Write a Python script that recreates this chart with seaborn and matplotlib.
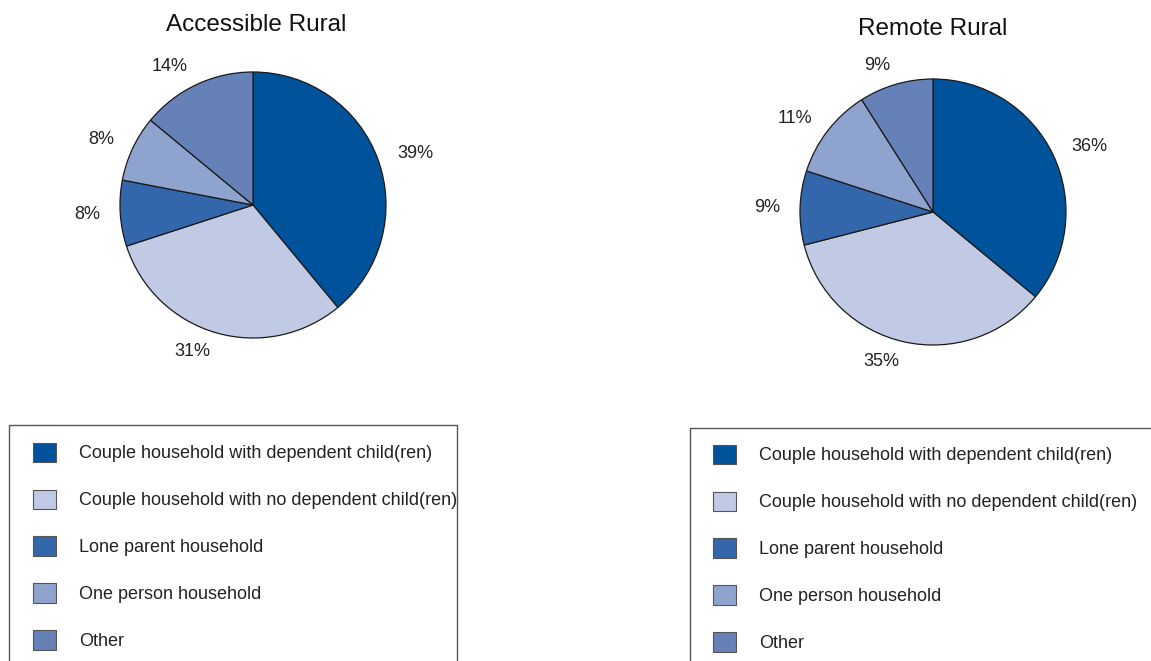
import matplotlib
matplotlib.use("Agg")
import matplotlib.pyplot as plt
from matplotlib.patches import Patch
import seaborn as sns

sns.set_theme(style="white")
plt.rcParams["font.family"] = ["Liberation Sans", "DejaVu Sans"]

categories = [
    "Couple household with dependent child(ren)",
    "Couple household with no dependent child(ren)",
    "Lone parent household",
    "One person household",
    "Other",
]
accessible_rural = [39, 31, 8, 8, 14]
remote_rural = [36, 35, 9, 11, 9]
colors = ["#00529b", "#c0cae5", "#3366aa", "#8fa3cf", "#6680b8"]

W, H = 1151, 661
fig = plt.figure(figsize=(W / 100, H / 100), dpi=100)


def px_axes(cx, cy, r):
    return fig.add_axes([(cx - r) / W, 1 - (cy + r) / H, 2 * r / W, 2 * r / H])


def draw_pie(cx, cy, r, values, title, title_xy):
    ax = px_axes(cx, cy, r)
    ax.pie(values, colors=colors, startangle=90, counterclock=False,
           labels=[f"{v}%" for v in values], labeldistance=1.15,
           wedgeprops=dict(edgecolor="#1a1a1a", linewidth=0.9),
           textprops=dict(fontsize=13, color="#222222"))
    ax.set_xlim(-1, 1)
    ax.set_ylim(-1, 1)
    ax.set_aspect("equal")
    ax.axis("off")
    fig.text(title_xy[0] / W, 1 - title_xy[1] / H, title, ha="center",
             va="center", fontsize=17.5, color="#111111")


def draw_legend(x0, y0, x1, show_right, dx, dy):
    # open-bottom frame around the legend
    y_bot = H + 20
    pts_x = [x0, x0, x1] + ([x1] if show_right else [])
    pts_y = [y_bot, y0, y0] + ([y_bot] if show_right else [])
    fig.add_artist(plt.Line2D([p / W for p in pts_x], [1 - p / H for p in pts_y],
                              color="#555555", linewidth=1.0))
    handles = [Patch(facecolor=c, edgecolor="#555555", linewidth=0.8) for c in colors]
    fig.legend(handles, categories, loc="upper left",
               bbox_to_anchor=((x0 + dx) / W, 1 - (y0 + dy) / H),
               frameon=False, fontsize=13, handlelength=1.28, handleheight=1.28,
               handletextpad=1.28, labelspacing=1.5, borderpad=0.2,
               labelcolor="#222222")


draw_pie(253, 205, 133, accessible_rural, "Accessible Rural", (256, 25))
draw_pie(933, 212, 133, remote_rural, "Remote Rural", (933, 29))
draw_legend(9, 425, 457, True, 11, 5)
draw_legend(690, 428, 1160, False, 10, 4)

fig.savefig("out.png", dpi=100)
